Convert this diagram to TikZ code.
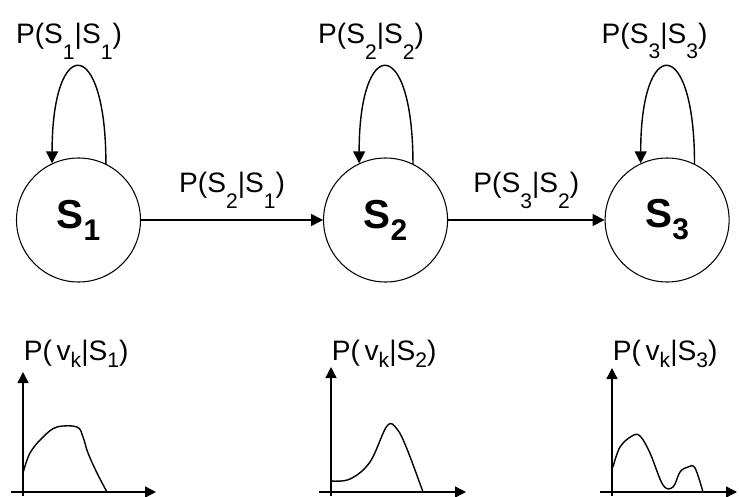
\documentclass[tikz,border=0pt]{standalone}
\usepackage{fontspec}
\setmainfont{Liberation Sans}
\usetikzlibrary{arrows.meta, positioning}
\newcommand{\lowsub}[2][9pt]{\raisebox{-#1}{\fontsize{12}{12}\selectfont #2}}
\newcommand{\statesub}[1]{\raisebox{-6.8pt}{\fontsize{17}{17}\selectfont #1}}

\begin{document}
\begin{tikzpicture}[
    state/.style={draw, circle, line width=0.6pt, minimum size=2.48cm,
                  inner sep=0pt, font=\fontsize{23}{26}\selectfont\bfseries},
    lbl/.style={inner sep=2pt, font=\fontsize{16}{19}\selectfont},
    arr/.style={-{Triangle[length=2.4mm, width=2.4mm]}, line width=0.8pt},
    axis/.style={-{Triangle[length=2.2mm, width=2.2mm]}, line width=0.8pt},
    curve/.style={line width=0.8pt, smooth, tension=0.6}
  ]
    \useasboundingbox (0,0) rectangle (14.78,9.92);
    \node[state] (s1) at (1.57,5.52) {S\statesub{1}};
    \node[state, right=3.64cm of s1] (s2) {S\statesub{2}};
    \node[state, right=3.13cm of s2] (s3) {S\statesub{3}};
    \draw[arr] (s1.64) .. controls +(0,2.58) and +(0,2.58) ..
      node[lbl, above=2pt, xshift=-0.2cm] (p11) {P(S\lowsub{1}|S\lowsub{1})} (s1.115);
    \draw[arr] (s2.64) .. controls +(0,2.58) and +(0,2.58) ..
      node[lbl, above=2pt, xshift=-0.3cm] (p22) {P(S\lowsub{2}|S\lowsub{2})} (s2.115);
    \draw[arr] (s3.64) .. controls +(0,2.58) and +(0,2.58) ..
      node[lbl, above=2pt, xshift=-0.26cm] (p33) {P(S\lowsub{3}|S\lowsub{3})} (s3.115);
    \draw[arr] (s1) -- node[lbl, above=4pt] (p21) {P(S\lowsub{2}|S\lowsub{1})} (s2);
    \draw[arr] (s2) -- node[lbl, above=4pt] (p32) {P(S\lowsub{3}|S\lowsub{2})} (s3);
    \foreach \i/\x/\top/\len in {1/0.46/2.48/2.9, 2/6.62/2.58/2.94, 3/12.24/2.56/2.74} {
      \coordinate (o\i) at (\x,0.08);
      \draw[axis] (o\i) ++(0,-0.08) -- ++(0,\top);
      \draw[axis] (o\i) ++(-0.24,0) -- ++(\len,0);
      \node[lbl, anchor=base west] (pv\i) at ([shift={(-0.06,2.64)}]o\i)
        {P(\,v\lowsub[4.5pt]{k}|S\lowsub[4.5pt]{\i})};
    }
    \draw[curve, shift={(o1)}] plot coordinates {(0,0.38) (0.14,0.78) (0.4,1.1)
      (0.68,1.3) (1.08,1.3) (1.2,1.1) (1.3,0.78) (1.48,0.38) (1.68,0)};
    \draw[curve, shift={(o2)}] plot coordinates {(0,0.22) (0.38,0.26) (0.78,0.6)
      (1.12,1.32) (1.32,1.26) (1.52,0.86) (1.84,0)};
    \draw[curve, shift={(o3)}] plot coordinates {(0.02,0.5) (0.16,0.9) (0.4,1.12)
      (0.56,1.12) (0.76,0.78) (1.02,0.14) (1.22,0.1) (1.36,0.4) (1.52,0.5)
      (1.66,0.48) (1.82,0)};
  \end{tikzpicture}
\end{document}
